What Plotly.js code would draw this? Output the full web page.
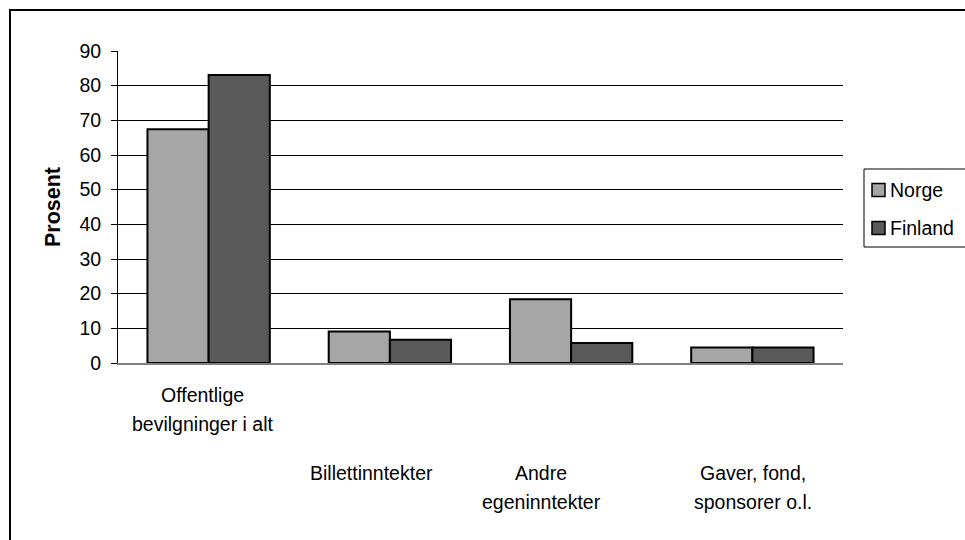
<!DOCTYPE html>
<html>
<head>
<meta charset="utf-8">
<script src="https://cdn.plot.ly/plotly-3.0.1.min.js"></script>
<style>
html,body{margin:0;padding:0;background:#fff;}
#chart{width:965px;height:540px;}
</style>
</head>
<body>
<div id="chart"></div>
<script>
// ---- data ----
const categories = ["Offentlige<br>bevilgninger i alt", "Billettinntekter", "Andre<br>egeninntekter", "Gaver, fond,<br>sponsorer o.l."];
const seriesNames = ["Norge", "Finland"];
const norge = [67.4, 9.1, 18.4, 4.5];
const finland = [83.1, 6.7, 5.8, 4.5];
const yTickVals = [0, 10, 20, 30, 40, 50, 60, 70, 80, 90];
const yTitle = "Prosent";

// ---- layout helpers ----
const W = 965, H = 540;
const L = 118, T = 51, PW = 725, PH = 312;
const px2x = p => (p - L) / PW;
const py2y = p => (T + PH - p) / PH;
const FONT = "Liberation Sans, Arial, sans-serif";
const FS = 19.5;
const colors = ["#a6a6a6", "#595959"];

const traces = [norge, finland].map((vals, i) => ({
  type: "bar",
  name: seriesNames[i],
  x: categories,
  y: vals,
  marker: {color: colors[i], line: {color: "#000", width: 2}},
  hoverinfo: "skip",
  showlegend: false
}));

// category labels (staggered like the original)
const labelShift = [-0.033, -0.10, -0.166, 0.006];
const rowTop = [395, 473, 473, 473];
const lineGap = 29;
const annotations = [];
categories.forEach((c, i) => {
  c.split("<br>").forEach((line, j) => {
    annotations.push({
      xref: "x", yref: "paper",
      x: i + labelShift[i], y: py2y(rowTop[i] + j * lineGap),
      xanchor: "center", yanchor: "middle",
      text: line, showarrow: false,
      font: {family: FONT, size: FS, color: "#000"}
    });
  });
});

// custom legend
const shapes = [];
shapes.push({type: "rect", xref: "paper", yref: "paper",
  x0: px2x(10), x1: px2x(1100), y0: py2y(700), y1: py2y(10),
  line: {color: "#000", width: 2}, fillcolor: "rgba(0,0,0,0)", layer: "below"});
shapes.push({type: "rect", xref: "paper", yref: "paper",
  x0: px2x(864), x1: px2x(1000), y0: py2y(247), y1: py2y(169),
  line: {color: "#000", width: 1}, fillcolor: "#fff"});
const legRowY = [190, 228];
seriesNames.forEach((n, i) => {
  const cy = legRowY[i];
  shapes.push({type: "rect", xref: "paper", yref: "paper",
    x0: px2x(872), x1: px2x(885), y0: py2y(cy + 6.5), y1: py2y(cy - 6.5),
    line: {color: "#000", width: 1.5}, fillcolor: colors[i]});
  annotations.push({xref: "paper", yref: "paper", x: px2x(888), y: py2y(cy),
    xanchor: "left", yanchor: "middle", text: n, showarrow: false,
    font: {family: FONT, size: FS, color: "#000"}});
});

const layout = {
  width: W, height: H,
  margin: {l: L, r: W - L - PW, t: T, b: H - T - PH, pad: 0},
  paper_bgcolor: "#fff", plot_bgcolor: "#fff",
  font: {family: FONT, size: FS, color: "#000"},
  showlegend: false,
  barmode: "group",
  bargap: 0.325,
  bargroupgap: 0,
  xaxis: {
    type: "category",
    showticklabels: false, ticks: "",
    showgrid: false, zeroline: false,
    showline: true, linecolor: "#808080", linewidth: 1.5,
    fixedrange: true
  },
  yaxis: {
    range: [0, 90],
    tickvals: yTickVals,
    ticktext: yTickVals.map(String),
    ticks: "outside", ticklen: 6, tickcolor: "#000", tickwidth: 1,
    ticklabelstandoff: 6,
    showline: true, linecolor: "#000", linewidth: 1,
    showgrid: true, gridcolor: "#000", gridwidth: 1,
    zeroline: false,
    tickfont: {family: FONT, size: FS, color: "#000"},
    title: {text: "<b>" + yTitle + "</b>", standoff: 12, font: {family: FONT, size: 21.5, color: "#000"}},
    automargin: false,
    fixedrange: true
  },
  annotations: annotations,
  shapes: shapes
};

Plotly.newPlot("chart", traces, layout, {displayModeBar: false, staticPlot: true});
</script>
</body>
</html>
